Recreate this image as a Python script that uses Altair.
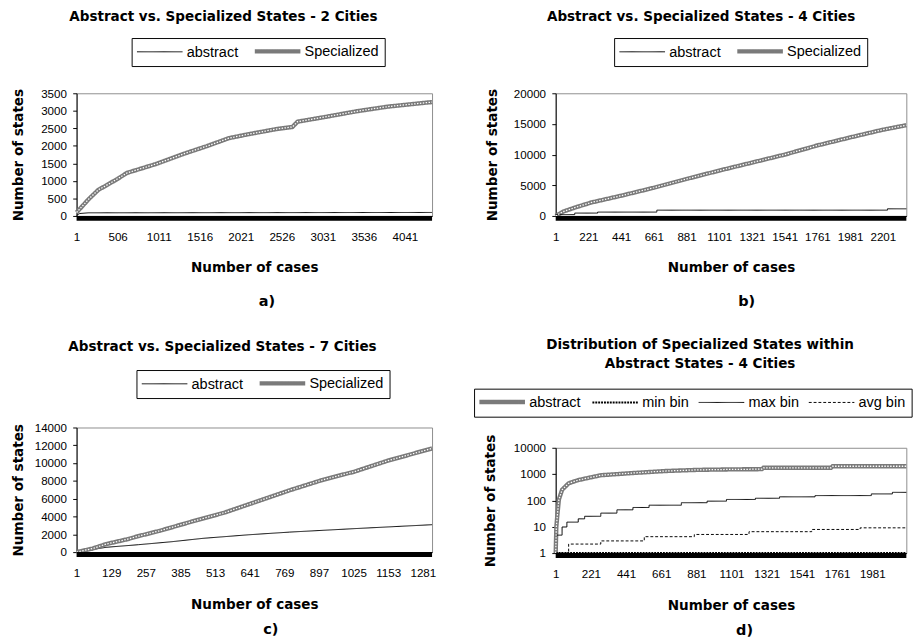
import altair as alt
import pandas as pd

# ---------------- data ----------------
# Panel a : 2 cities
A_SPEC_X = [1, 150, 271, 348, 506, 623, 975, 1328, 1601, 1875, 2110, 2462, 2657, 2720, 3049, 3441, 3832, 4375]
A_SPEC_Y = [100, 480, 750, 846, 1060, 1230, 1480, 1780, 1990, 2220, 2330, 2480, 2540, 2690, 2820, 2985, 3120, 3250]
A_ABS_X = [1, 40, 150, 4375]
A_ABS_Y = [20, 70, 90, 100]
A_XTICKS = [1, 506, 1011, 1516, 2021, 2526, 3031, 3536, 4041]
A_YTICKS = [0, 500, 1000, 1500, 2000, 2500, 3000, 3500]

# Panel b : 4 cities
B_SPEC_X = [1, 50, 134, 241, 441, 661, 891, 1101, 1321, 1541, 1761, 1981, 2190, 2359]
B_SPEC_Y = [0, 700, 1400, 2200, 3300, 4600, 6100, 7400, 8700, 10000, 11500, 12800, 14000, 14800]
B_ABS_X = [1, 129, 283, 681, 2232, 2359]
B_ABS_Y = [220, 470, 630, 945, 1165, 1165]
B_XTICKS = [1, 221, 441, 661, 881, 1101, 1321, 1541, 1761, 1981, 2201]
B_YTICKS = [0, 5000, 10000, 15000, 20000]

# Panel c : 7 cities
C_SPEC_X = [1, 60, 110, 189, 230, 309, 429, 549, 669, 789, 909, 1029, 1149, 1315]
C_SPEC_Y = [0, 400, 900, 1450, 1800, 2400, 3450, 4450, 5700, 6950, 8100, 9050, 10250, 11650]
C_ABS_X = [1, 110, 230, 350, 469, 638, 789, 1029, 1315]
C_ABS_Y = [0, 540, 835, 1160, 1550, 1950, 2250, 2640, 3080]
C_XTICKS = [1, 129, 257, 385, 513, 641, 769, 897, 1025, 1153, 1281]
C_YTICKS = [0, 2000, 4000, 6000, 8000, 10000, 12000, 14000]

# Panel d : distribution, 4 cities (log scale)
D_ABS_X = [1, 5, 11, 21, 41, 82, 142, 283, 484, 686, 888, 1129, 1290, 1300, 1723, 1733, 2194]
D_ABS_Y = [1, 10, 26, 109, 254, 448, 594, 907, 1100, 1310, 1450, 1520, 1540, 1740, 1740, 1990, 1990]
D_MIN_X = [1, 2194]
D_MIN_Y = [1, 1]
D_MAX_X = [1, 41, 71, 142, 182, 283, 384, 484, 585, 787, 948, 1069, 1250, 1401, 1623, 1975, 2107, 2194]
D_MAX_Y = [4.8, 9.8, 15, 20, 25, 33, 44, 54, 66, 82, 94, 109, 121, 137, 153, 177, 203, 203]
D_AVG_X = [1, 82, 283, 555, 868, 1210, 1602, 1905, 2194]
D_AVG_Y = [1, 2.2, 2.9, 4.2, 5.1, 6.5, 7.9, 9.1, 9.1]
D_XTICKS = [1, 221, 441, 661, 881, 1101, 1321, 1541, 1761, 1981]
D_YTICKS = [1, 10, 100, 1000, 10000]

TITLE_FONT = "DejaVu Sans"
LABEL_FONT = "Liberation Sans"
HATCH_GRAY = "#7a7a7a"


def long_df(series, widths):
    rows = []
    for name, (xs, ys) in series.items():
        for xv, yv in zip(xs, ys):
            rows.append({"series": name, "x": xv, "y": yv, "sw": widths[name]})
    return pd.DataFrame(rows)


def panel(title, title_dx, series, linear, steps, hatched, domain, colors, widths, dashes,
          xdom, xticks, ydom, yticks, ylog, width, height, yext, ytp,
          legend_x, legend_y, title_offset):
    wmap = dict(zip(domain, widths))
    df = long_df(series, wmap)
    x = alt.X("x:Q",
              scale=alt.Scale(domain=xdom, nice=False, zero=False),
              axis=alt.Axis(values=xticks, title="Number of cases", ticks=False,
                            labelPadding=16.5, titlePadding=19.5, format="d",
                            labelFlush=False, labelOverlap=False))
    if ylog:
        ysc = alt.Scale(type="log", domain=ydom, nice=False)
    else:
        ysc = alt.Scale(domain=ydom, nice=False, zero=False)
    y = alt.Y("y:Q", scale=ysc,
              axis=alt.Axis(values=yticks, format="d", title="Number of states",
                            minExtent=yext, maxExtent=yext, titlePadding=ytp,
                            tickSize=4, labelPadding=6.5, labelOverlap=False))
    sw_expr = " : ".join(f"datum.value === '{d}' ? {w}" for d, w in zip(domain[:-1], widths[:-1]))
    sw_expr = f"{sw_expr} : {widths[-1]}"
    leg = alt.Legend(orient="none", legendX=legend_x, legendY=legend_y,
                     direction="horizontal", title=None,
                     strokeColor="black", fillColor="white", padding=6,
                     symbolType="M-1,0H4.9", symbolSize=256,
                     symbolStrokeWidth=alt.ExprRef(expr=sw_expr),
                     labelFont=LABEL_FONT, labelFontSize=15, labelColor="black",
                     labelOffset=36, columnPadding=7, labelLimit=0)
    enc = dict(
        color=alt.Color("series:N", scale=alt.Scale(domain=domain, range=colors), legend=leg),
        strokeDash=alt.StrokeDash("series:N", scale=alt.Scale(domain=domain, range=dashes), legend=leg),
        strokeWidth=alt.StrokeWidth("sw:Q", scale=None, legend=None),
    )
    base = alt.Chart(df)
    layers = []
    if linear:
        layers.append(base.transform_filter(alt.FieldOneOfPredicate(field="series", oneOf=linear))
                      .mark_line(interpolate="linear").encode(x=x, y=y, **enc))
    if steps:
        layers.append(base.transform_filter(alt.FieldOneOfPredicate(field="series", oneOf=steps))
                      .mark_line(interpolate="step-after").encode(x=x, y=y, **enc))
    layers.append(base.transform_filter(alt.FieldEqualPredicate(field="series", equal=hatched))
                  .mark_line(color="white", strokeWidth=1.3, strokeDash=[1.5, 1.5])
                  .encode(x=x, y=y))
    band_df = pd.DataFrame({"x": [xdom[0]], "x2": [xdom[1]], "y": [ydom[0]]})
    layers.append(alt.Chart(band_df).mark_rule(color="black", strokeWidth=5, yOffset=2.5)
                  .encode(x=x, x2="x2:Q", y=y))
    tparams = dict(text=title, font=TITLE_FONT, fontSize=14, fontWeight="bold",
                   color="black", anchor="middle", dx=title_dx, offset=title_offset)
    if isinstance(title, list):
        tparams["lineHeight"] = 20
    return alt.layer(*layers).properties(width=width, height=height,
                                         title=alt.TitleParams(**tparams))


def resolve(ch):
    return ch.resolve_scale(color="independent", strokeDash="independent").resolve_legend(
        color="independent", strokeDash="independent")


def wrap(ch, label, dx, offset):
    return resolve(alt.vconcat(ch, title=alt.TitleParams(
        text=label, orient="bottom", anchor="middle", frame="bounds", dx=dx,
        offset=offset, font=TITLE_FONT, fontSize=15, fontWeight="bold", color="black")))


AS = ["abstract", "Specialized"]
AS_COL = ["black", HATCH_GRAY]
AS_W = [1, 4.5]
AS_D = [[1, 0], [1, 0]]

pa = panel("Abstract vs. Specialized States - 2 Cities", -32,
           {"abstract": (A_ABS_X, A_ABS_Y), "Specialized": (A_SPEC_X, A_SPEC_Y)},
           AS, [], "Specialized", AS, AS_COL, AS_W, AS_D,
           [1, 4375], A_XTICKS, [0, 3500], A_YTICKS, False, 368, 127, 43, 10,
           57, -57.2, 14.5)
pb = panel("Abstract vs. Specialized States - 4 Cities", -31,
           {"abstract": (B_ABS_X, B_ABS_Y), "Specialized": (B_SPEC_X, B_SPEC_Y)},
           ["Specialized"], ["abstract"], "Specialized", AS, AS_COL, AS_W, AS_D,
           [1, 2359], B_XTICKS, [0, 20000], B_YTICKS, False, 363, 127, 48, 10.5,
           60.5, -57.2, 14.5)
pc = panel("Abstract vs. Specialized States - 7 Cities", -33,
           {"abstract": (C_ABS_X, C_ABS_Y), "Specialized": (C_SPEC_X, C_SPEC_Y)},
           AS, [], "Specialized", AS, AS_COL, AS_W, AS_D,
           [1, 1315], C_XTICKS, [0, 14000], C_YTICKS, False, 368, 129, 43, 10,
           62, -59.5, 16.5)
DS = ["abstract", "min bin", "max bin", "avg bin"]
pd_ = panel(["Distribution of Specialized States within", "Abstract States - 4 Cities"], -32,
            {"abstract": (D_ABS_X, D_ABS_Y), "min bin": (D_MIN_X, D_MIN_Y),
             "max bin": (D_MAX_X, D_MAX_Y), "avg bin": (D_AVG_X, D_AVG_Y)},
            ["abstract", "min bin"], ["max bin", "avg bin"], "abstract", DS,
            [HATCH_GRAY, "black", "black", "black"], [4.5, 2, 1, 1],
            [[1, 0], [2, 1], [1, 0], [3, 2]],
            [1, 2194], D_XTICKS, [1, 10000], D_YTICKS, True, 363, 109, 50, 10,
            -84.5, -61.2, 17.5)

A = wrap(pa, "a)", 42, 19.5)
B = wrap(pb, "b)", 48, 19.5)
C = wrap(pc, "c)", 46, 11.5)
D = wrap(pd_, "d)", 52, 11.5)

col1 = resolve(alt.vconcat(A, C, spacing=32))
col2 = resolve(alt.vconcat(B, D, spacing=30))
chart = resolve(alt.hconcat(col1, col2, spacing=32)).properties(
    padding={"left": 3, "top": -10, "right": 0, "bottom": 0},
    background="white",
).configure_view(stroke="#8c8c8c", strokeWidth=1).configure_axis(
    labelFont=LABEL_FONT, labelFontSize=12, labelColor="black",
    titleFont=TITLE_FONT, titleFontSize=14, titleFontWeight="bold", titleColor="black",
    domainColor="black", tickColor="black", grid=False,
)

chart.save("out.html", embed_options={"renderer": "svg", "actions": False})
